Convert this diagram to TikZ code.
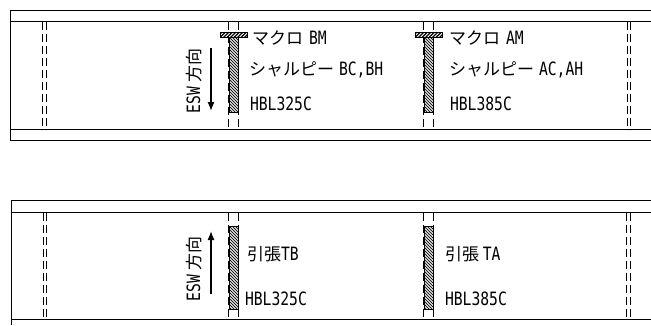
\documentclass[tikz,border=0pt]{standalone}
\usepackage{fontspec}
\usetikzlibrary{arrows.meta}
\newfontfamily\jpf{Noto Sans CJK JP}
\newfontfamily\latf[FakeStretch=0.80,Scale=1.08]{DejaVu Sans Mono}
\newcommand{\La}[1]{{\latf #1}}
\tikzset{
  x=1pt,y=-1pt,
  rule/.style={draw=black,line width=1pt},
  dashline/.style={draw=black,line width=0.9pt,dash pattern=on 8pt off 4pt},
  lbl/.style={anchor=base west,inner sep=0pt,outer sep=0pt,font=\fontsize{17}{17}\selectfont\jpf},
  flow/.style={draw=black,line width=1.3pt,-{Latex[length=9pt,width=7pt]}},
  outline/.style={draw=black,line width=0.6pt}
}
\newcommand{\hatchback}[4]{%
  \begin{scope}
    \clip (#1,#2) rectangle (#3,#4);
    \fill[white] (#1,#2) rectangle (#3,#4);
    \foreach \k in {-90,-87,...,12}{
      \draw[line width=1.05pt,black!90] (#1+\k,#2) -- ++(100,100);
    }
  \end{scope}
  \draw[outline] (#1,#2) rectangle (#3,#4);
}
\newcommand{\hatchfwd}[4]{%
  \begin{scope}
    \clip (#1,#2) rectangle (#3,#4);
    \fill[white] (#1,#2) rectangle (#3,#4);
    \foreach \k in {0,3.5,...,42}{
      \draw[line width=1.2pt] (#1+\k,#2-2) -- ++(-9,9);
    }
  \end{scope}
  \draw[outline] (#1,#2) rectangle (#3,#4);
}
\begin{document}
\begin{tikzpicture}
\useasboundingbox (0,0) rectangle (651,325);
% top plate
\draw[rule] (651,10.5) -- (10.5,10.5) -- (10.5,140.5) -- (651,140.5);
\draw[rule] (10.5,21.5) -- (651,21.5);
\draw[rule] (10.5,129.5) -- (651,129.5);
% bottom plate
\draw[rule] (651,200.5) -- (11,200.5);
\draw[rule] (11,200) -- (11,325);
\draw[rule] (11,212.5) -- (651,212.5);
\draw[rule] (11,319.5) -- (651,319.5);
% dashed lines at the plate edges
\foreach \xx in {42.5,46.5,627.5,630.5}
  \draw[dashline] (\xx,21.5) -- (\xx,129.5);
\foreach \xx in {43.5,46.5,626.5,630}
  \draw[dashline] (\xx,212.5) -- (\xx,319.5);
% welds
\hatchback{229}{37}{238}{112}
\hatchback{424}{37}{433}{112}
\hatchfwd{220.5}{32}{247}{37}
\hatchfwd{415.5}{32}{442}{37}
\hatchback{229}{226}{238}{309}
\hatchback{424}{226}{433}{309}
% dashed lines over the weld sides
\foreach \xx in {228.5,238.5,423.5,433.5}{
  \draw[dashline] (\xx,21.5) -- (\xx,32);
  \draw[dashline,dash phase=2pt] (\xx,37) -- (\xx,129.5);
  \draw[dashline] (\xx,212.5) -- (\xx,319.5);
}
% arrows
\coordinate (a1) at (211,48);
\coordinate (a2) at (211,111);
\coordinate (b1) at (211,294);
\coordinate (b2) at (211,231);
\draw[flow] (a1) -- (a2);
\draw[flow] (b1) -- (b2);
% rotated labels
\node[lbl,anchor=base,rotate=90] (esw1) at (200,81) {\La{ESW} 方向};
\node[lbl,anchor=base,rotate=90] (esw2) at (200,269) {\La{ESW} 方向};
% top labels
\node[lbl] (m1) at (252,44) {マクロ\hspace{6pt}\La{BM}};
\node[lbl] (c1) at (249,75) {シャルピー\hspace{5pt}\La{BC,BH}};
\node[lbl] (h1) at (250,110) {\La{HBL325C}};
\node[lbl] (m2) at (449,44) {マクロ\hspace{6pt}\La{AM}};
\node[lbl] (c2) at (449,75) {シャルピー\hspace{5pt}\La{AC,AH}};
\node[lbl] (h2) at (450,110) {\La{HBL385C}};
% bottom labels
\node[lbl] (t1) at (247,260) {引張\La{TB}};
\node[lbl] (h3) at (245,305) {\La{HBL325C}};
\node[lbl] (t2) at (445,260) {引張 \La{TA}};
\node[lbl] (h4) at (445,305) {\La{HBL385C}};
\end{tikzpicture}
\end{document}
